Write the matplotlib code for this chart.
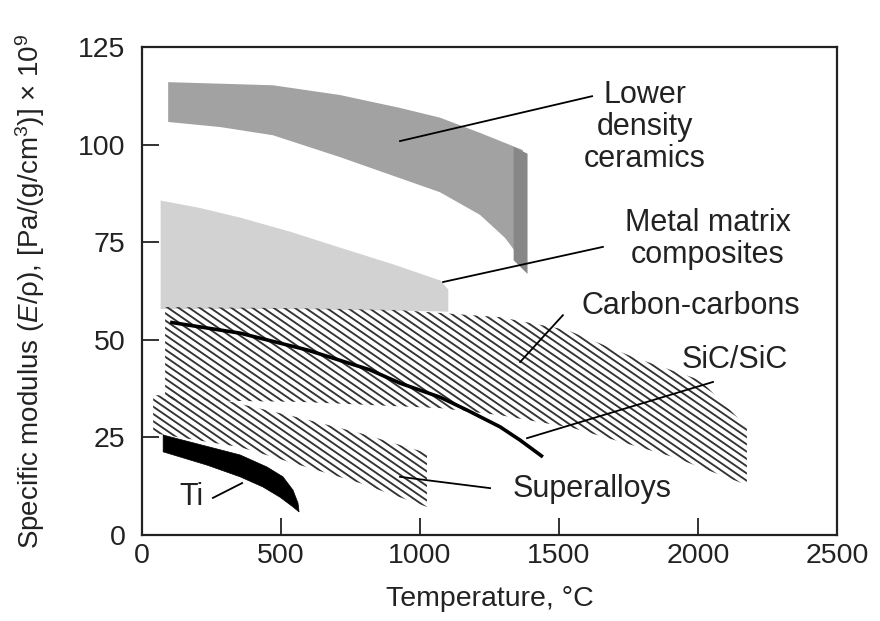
import numpy as np
import matplotlib
matplotlib.use('Agg')
import matplotlib.pyplot as plt
from matplotlib.patches import Polygon
from matplotlib.collections import LineCollection

plt.rcParams['font.family'] = ['Liberation Sans', 'DejaVu Sans']
plt.rcParams['mathtext.fontset'] = 'custom'
plt.rcParams['mathtext.rm'] = 'Liberation Sans'
plt.rcParams['mathtext.it'] = 'Liberation Sans:italic'

# --- data (temperature in degC, specific modulus) ---
# lower density ceramics band
cer_top_x = [94, 471, 712, 928, 1072, 1216, 1370]
cer_top = [116.0, 115.2, 112.7, 109.4, 106.9, 103.0, 98.6]
cer_bot_x = [94, 281, 471, 712, 928, 1072, 1216, 1306, 1370]
cer_bot = [105.8, 104.5, 102.4, 96.8, 91.4, 87.8, 82.0, 76.1, 70.0]
# darker end face of the ceramics band
cer_end_x = [1335, 1385]
cer_end_top = [99.5, 97.8]
cer_end_bot = [70.5, 67.0]

# metal matrix composites
mmc_x = [65, 200, 353, 532, 712, 900, 1072, 1100]
mmc_top = [85.8, 84.0, 81.4, 77.8, 73.7, 69.5, 65.3, 63.0]
mmc_bot = [58.0, 58.0, 58.0, 58.0, 57.8, 57.6, 57.4, 57.3]

# carbon-carbons (hatched)
cc_top_x = [83, 568, 928, 1288, 1529, 1766, 2007, 2176]
cc_top = [58.4, 58.1, 57.6, 55.8, 52.5, 45.6, 39.7, 27.7]
cc_bot_x = [83, 568, 1072, 1288, 1550, 1910, 2176]
cc_bot = [34.6, 34.1, 32.5, 30.7, 27.4, 20.0, 12.8]

# superalloys (hatched)
sa_top_x = [40, 291, 568, 784, 1025]
sa_top = [35.9, 34.6, 30.0, 26.1, 21.0]
sa_bot_x = [40, 353, 568, 784, 1025]
sa_bot = [26.1, 22.5, 17.9, 13.3, 7.2]

# SiC/SiC curve
sic_x = [101, 353, 594, 820, 928, 1072, 1169, 1288, 1360, 1442]
sic_y = [54.5, 51.7, 47.4, 42.3, 38.9, 35.3, 32.0, 27.7, 24.3, 20.0]

# Ti band
ti_top_x = [76, 353, 450, 507, 543, 561, 565]
ti_top = [25.6, 20.5, 17.4, 14.9, 11.5, 8.2, 5.9]
ti_bot_x = [76, 234, 353, 435, 496, 543, 565]
ti_bot = [21.3, 17.9, 14.9, 12.3, 9.7, 7.2, 5.9]

# labels: text, text position, leader line start, leader line end
labels = ['Lower\ndensity\nceramics', 'Metal matrix\ncomposites', 'Carbon-carbons',
          'SiC/SiC', 'Superalloys', 'Ti']
label_xy = [(1809, 104.5), (2036, 75.8), (1975, 58.6), (2133, 44.8), (1619, 11.8), (176, 9.7)]
leader_from = [(928, 100.9), (1083, 64.8), (1360, 44.3), (1385, 24.8), (928, 14.9), (255, 9.5)]
leader_to = [(1619, 112.4), (1658, 73.8), (1514, 56.3), (2054, 39.2), (1252, 12.0), (360, 13.3)]

x_ticks = [0, 500, 1000, 1500, 2000, 2500]
y_ticks = [0, 25, 50, 75, 100, 125]


def region(xt, yt, xb, yb):
    """Polygon vertices: top edge left->right, bottom edge right->left"""
    return list(zip(xt, yt)) + list(zip(xb[::-1], yb[::-1]))


def hatch(ax, verts):
    """Diagonal line hatch clipped to the polygon"""
    clip = Polygon(verts, closed=True, facecolor='none', edgecolor='none')
    ax.add_patch(clip)
    slope = 0.049       # drop per degC, matches the picture's hatch angle
    step = 38.0         # horizontal spacing of the lines
    segs = [[(x0, 130), (x0 + 140 / slope, -10)] for x0 in np.arange(-3500, 2600, step)]
    lc = LineCollection(segs, colors='#333333', linewidths=1.35)
    lc.set_clip_path(clip)
    ax.add_collection(lc)


fig, ax = plt.subplots(figsize=(8.8, 6.21), dpi=100)
fig.subplots_adjust(left=0.1614, right=0.9511, top=0.9243, bottom=0.1385)

ax.fill_between(mmc_x, mmc_bot, mmc_top, color='#d2d2d2', lw=0)
ax.add_patch(Polygon(region(cer_top_x, cer_top, cer_bot_x, cer_bot), closed=True,
                     facecolor='#a2a2a2', edgecolor='none'))
ax.fill_between(cer_end_x, cer_end_bot, cer_end_top, color='#878787', lw=0)

hatch(ax, region(cc_top_x, cc_top, cc_bot_x, cc_bot))
hatch(ax, region(sa_top_x, sa_top, sa_bot_x, sa_bot))

ax.plot(sic_x, sic_y, color='black', lw=2.6, solid_capstyle='butt')
ax.add_patch(Polygon(region(ti_top_x, ti_top, ti_bot_x, ti_bot), closed=True,
                     facecolor='black', edgecolor='black', lw=0.5))

for txt, pos, p0, p1 in zip(labels, label_xy, leader_from, leader_to):
    ax.plot([p0[0], p1[0]], [p0[1], p1[1]], color='black', lw=1.3)
    ax.text(pos[0], pos[1], txt, ha='center', va='center', fontsize=22,
            linespacing=1.1, color='#222222')

ax.set_xlim(0, 2500)
ax.set_ylim(0, 125)
ax.set_xticks(x_ticks)
ax.set_yticks(y_ticks)
ax.tick_params(direction='in', length=12, width=1.3, labelsize=20.5, colors='#222222')
ax.tick_params(axis='y', pad=12)
ax.tick_params(axis='x', pad=6)
for s in ax.spines.values():
    s.set_linewidth(1.6)
    s.set_color('#222222')

ax.set_xlabel('Temperature, °C', fontsize=20.5, labelpad=12, color='#222222')
ax.set_ylabel('Specific modulus ($E$/ρ), [Pa/(g/cm$^3$)] × 10$^9$', fontsize=20,
              labelpad=22, color='#222222')

fig.savefig('out.png', dpi=100)
